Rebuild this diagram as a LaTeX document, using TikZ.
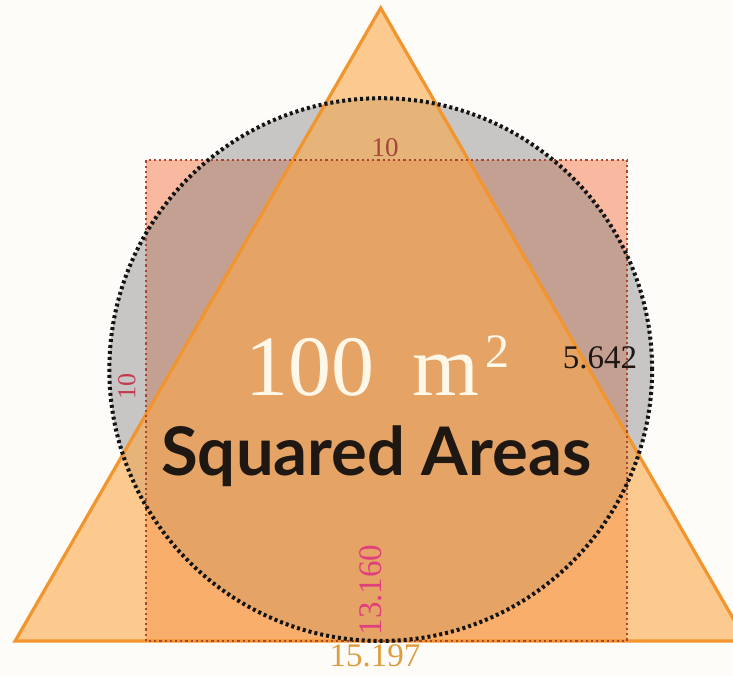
\documentclass[tikz,border=0pt]{standalone}
\usepackage{fontspec}
\setmainfont{Liberation Serif}
\newfontfamily\titlefont{Lato}
\usetikzlibrary{calc}

\definecolor{paper}{HTML}{FDFCF9}
\definecolor{sqfill}{HTML}{F8B9A0}
\definecolor{sqline}{HTML}{A8472F}
\definecolor{circfill}{HTML}{808080}
\definecolor{circline}{HTML}{141414}
\definecolor{trifill}{HTML}{FCA748}
\definecolor{triline}{HTML}{F2952F}
\definecolor{cream}{HTML}{FFF7E8}
\definecolor{ink}{HTML}{1E1712}
\definecolor{sidered}{HTML}{A4463A}
\definecolor{sidecrimson}{HTML}{C23A52}
\definecolor{heightpink}{HTML}{E0407C}
\definecolor{basegold}{HTML}{DE9E40}

\tikzset{
    sqdots/.style={sqline, line width=2.2pt, dash pattern=on 2.2pt off 3pt},
    circdots/.style={circline, line width=4pt, dash pattern=on 3pt off 3pt},
    triedge/.style={triline, line width=3.2pt, line join=miter},
    measure/.style={inner sep=0pt, font=\fontsize{33}{33}\selectfont},
}

\begin{document}
\begin{tikzpicture}[x=48.1pt, y=48.1pt]
    % background
    \fill[paper] (-3.035,-0.728) rectangle (12.204,13.326);
    \useasboundingbox (-3.035,-0.728) rectangle (12.204,13.326);

    % square
    \fill[sqfill] (0,0) rectangle (10,10);

    % circle
    \fill[circfill, fill opacity=0.43] (4.88,5.642) circle (5.642);

    % triangle
    \fill[trifill, fill opacity=0.6] (-2.72,0) -- (12.477,0) -- (4.88,13.16) -- cycle;
    \draw[triedge] (-2.72,0) -- (12.477,0) -- (4.88,13.16) -- cycle;

    % outlines
    \draw[sqdots] (0,0) rectangle (10,10);
    \draw[circdots] (4.88,5.642) circle (5.642);

    % side lengths
    \node[measure, sidered, font=\fontsize{27}{27}\selectfont] (sqtop) at (4.97,10.25) {10};
    \node[measure, sidecrimson, font=\fontsize{26}{26}\selectfont, rotate=90] (sqleft) at (-0.40,5.30) {10};
    \node[measure, ink] (radius) at (9.44,5.88) {5.642};
    \node[measure, heightpink, rotate=90] (height) at (4.68,1.06) {13.160};
    \node[measure, basegold] (base) at (4.76,-0.31) {15.197};

    % titles
    \node[anchor=base west, inner sep=0pt, cream, font=\fontsize{86}{86}\selectfont] (area)
        at (2.06,5.11) {100\hspace{0.45em}m\hspace{6pt}\raisebox{28pt}{\fontsize{48}{48}\selectfont 2}};
    \node[anchor=base, inner sep=0pt, ink, font=\titlefont\bfseries\fontsize{67}{67}\selectfont] (title)
        at (4.79,3.45) {Squared Areas};
\end{tikzpicture}
\end{document}
